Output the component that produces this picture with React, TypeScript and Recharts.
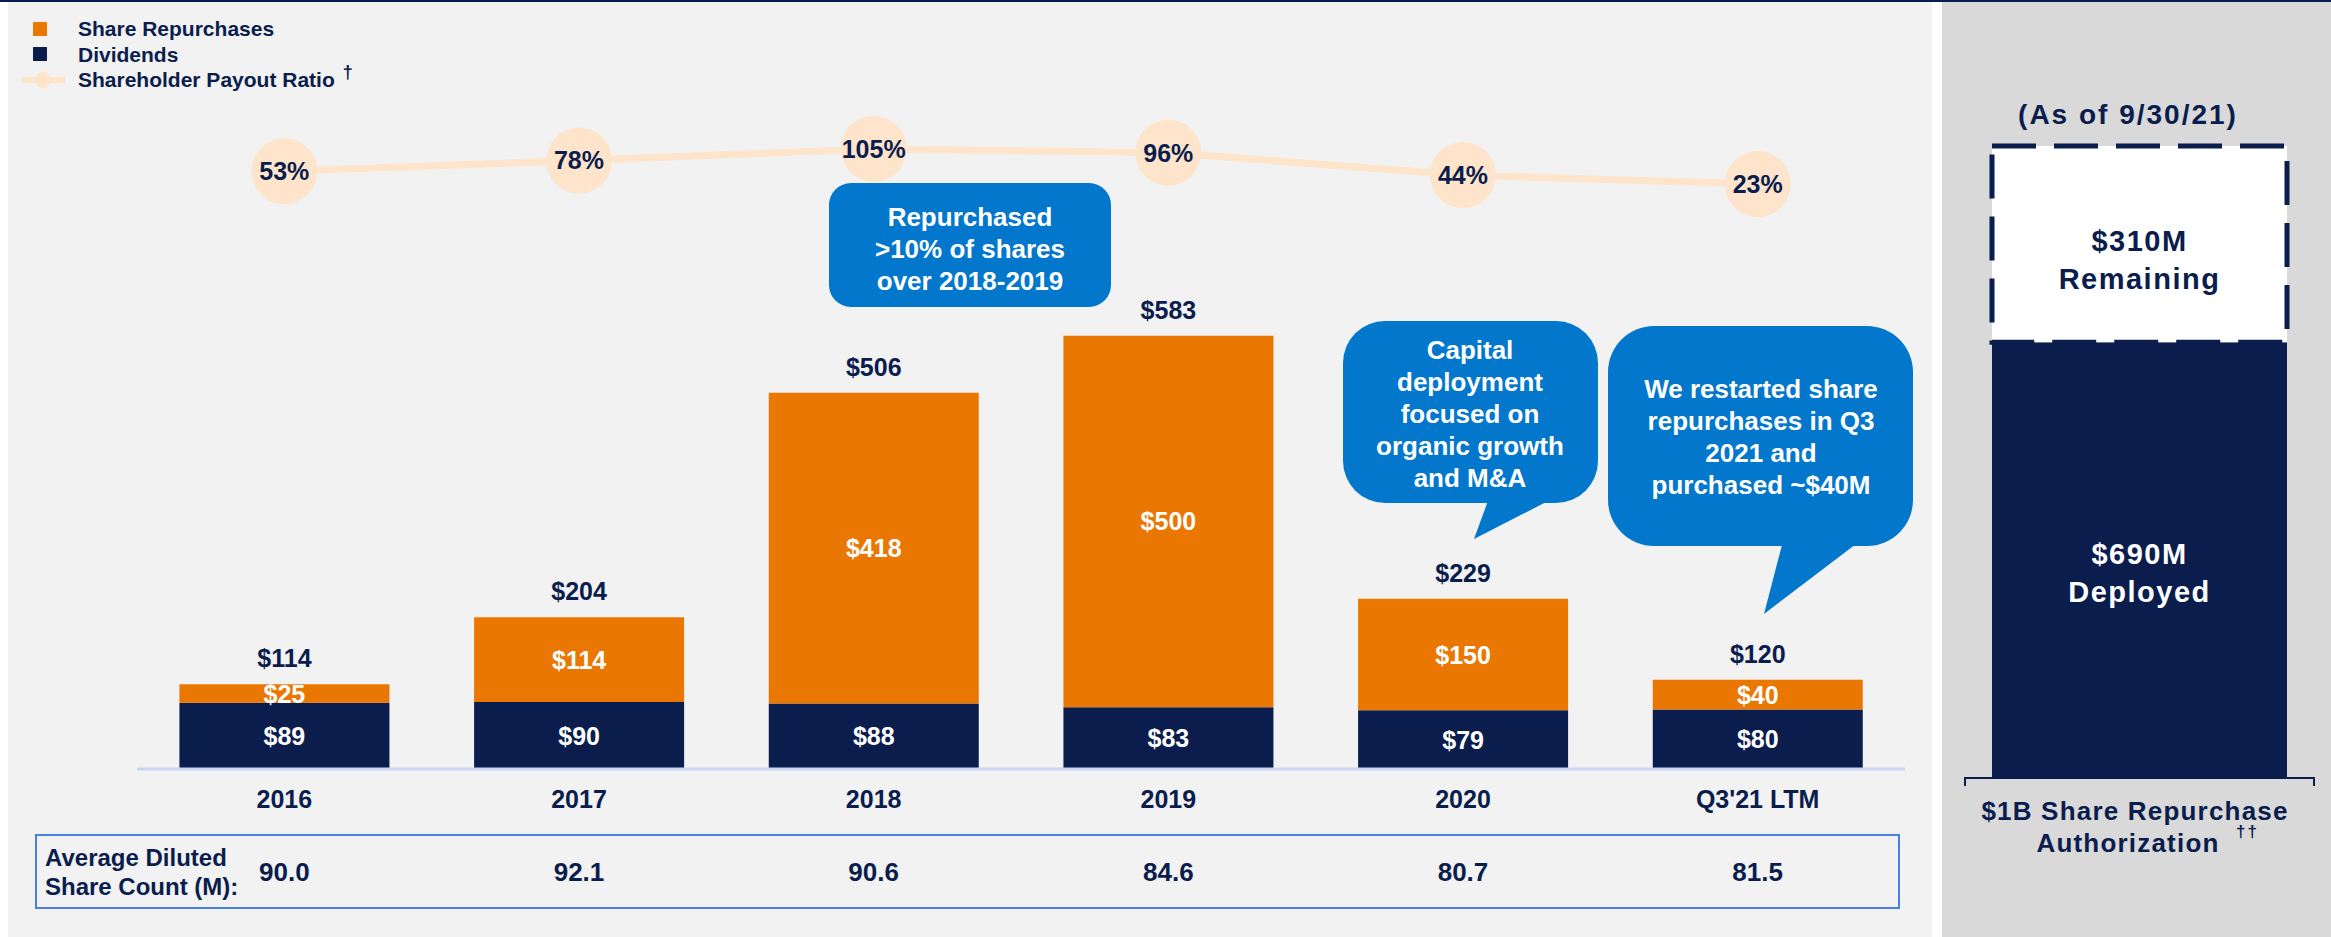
import React from "react";
import { ComposedChart, BarChart, Bar, Line, XAxis, YAxis, LabelList } from "recharts";

const years = ["2016", "2017", "2018", "2019", "2020", "Q3'21 LTM"];
const dividends = [89, 90, 88, 83, 79, 80];
const repurchases = [25, 114, 418, 500, 150, 40];
const totals = [114, 204, 506, 583, 229, 120];
const payoutRatio = [53, 78, 105, 96, 44, 23];
const shareCount = [90.0, 92.1, 90.6, 84.6, 80.7, 81.5];

const authDeployed = 690;
const authRemaining = 310;

const NAVY = "#0a1d4d";
const ORANGE = "#eb7703";
const PEACH = "#fde4ca";
const CALLOUT = "#0277cc";
const FONT = "'Liberation Sans', Arial, Helvetica, sans-serif";

const data = years.map((year, i) => ({
  year,
  dividends: dividends[i],
  repurchases: repurchases[i],
  total: totals[i],
  ratio: payoutRatio[i],
}));

const authData = [{ name: "auth", deployed: authDeployed, remaining: authRemaining }];

const box = (p: any) => p.viewBox ?? p;

const innerLabel = (p: any) => {
  const { x, y, width, height } = box(p);
  return (
    <text x={x + width / 2} y={y + height / 2} textAnchor="middle" dominantBaseline="central"
      fill="#fff" fontSize={25} fontWeight="bold" fontFamily={FONT}>
      ${p.value}
    </text>
  );
};

const totalLabel = (p: any) => {
  const { x, y, width } = box(p);
  return (
    <text x={x + width / 2} y={y - 26} textAnchor="middle" dominantBaseline="central"
      fill={NAVY} fontSize={25} fontWeight="bold" fontFamily={FONT}>
      ${p.value}
    </text>
  );
};

const ratioLabel = (p: any) => {
  const { x, y } = box(p);
  return (
    <text x={x} y={y} textAnchor="middle" dominantBaseline="central"
      fill={NAVY} fontSize={25} fontWeight="bold" fontFamily={FONT}>
      {p.value}%
    </text>
  );
};

// two-line label inside the authorization bar segments
const authLabel = (word: string, color: string, shift: number) => (p: any) => {
  const { x, y, width, height } = box(p);
  const cx = x + width / 2;
  const cy = y + height / 2 + shift;
  return (
    <text textAnchor="middle" fill={color} fontSize={29} fontWeight="bold" fontFamily={FONT} letterSpacing={1.5}>
      <tspan x={cx} y={cy - 19} dominantBaseline="central">${p.value}M</tspan>
      <tspan x={cx} y={cy + 19} dominantBaseline="central">{word}</tspan>
    </text>
  );
};

function YearTick({ x, y, payload }: any) {
  return (
    <g>
      <text x={x} y={y + 30} textAnchor="middle" dominantBaseline="central"
        fill={NAVY} fontSize={25} fontWeight="bold" fontFamily={FONT}>
        {payload.value}
      </text>
      <text x={x} y={y + 103} textAnchor="middle" dominantBaseline="central"
        fill={NAVY} fontSize={26} fontWeight="bold" fontFamily={FONT}>
        {shareCount[payload.index].toFixed(1)}
      </text>
    </g>
  );
}

function Callout({ lines, cx, y0 }: { lines: string[]; cx: number; y0: number }) {
  return (
    <text textAnchor="middle" fill="#fff" fontSize={26} fontWeight="bold" fontFamily={FONT}>
      {lines.map((l, i) => (
        <tspan key={i} x={cx} y={y0 + i * 32} dominantBaseline="central">{l}</tspan>
      ))}
    </text>
  );
}

export default function App() {
  return (
    <div style={{ position: "absolute", left: 0, top: 0, width: 2331, height: 937, background: "#fff", overflow: "hidden", fontFamily: FONT }}>
      {/* backgrounds */}
      <div style={{ position: "absolute", left: 8, top: 2, width: 1924, height: 935, background: "#f2f2f2" }} />
      <div style={{ position: "absolute", left: 1942, top: 2, width: 389, height: 935, background: "#d9d9d9" }} />
      <div style={{ position: "absolute", left: 0, top: 0, width: 2331, height: 2, background: NAVY }} />

      {/* legend */}
      <div style={{ position: "absolute", left: 0, top: 0, color: NAVY, fontWeight: "bold", fontSize: 21 }}>
        <div style={{ position: "absolute", left: 33, top: 22, width: 14, height: 14, background: ORANGE }} />
        <div style={{ position: "absolute", left: 78, top: 17, whiteSpace: "nowrap" }}>Share Repurchases</div>
        <div style={{ position: "absolute", left: 33, top: 47, width: 14, height: 14, background: NAVY }} />
        <div style={{ position: "absolute", left: 78, top: 43, whiteSpace: "nowrap" }}>Dividends</div>
        <div style={{ position: "absolute", left: 22, top: 77, width: 43, height: 6, background: PEACH }} />
        <div style={{ position: "absolute", left: 35, top: 72, width: 16, height: 16, borderRadius: 8, background: PEACH }} />
        <div style={{ position: "absolute", left: 78, top: 68, whiteSpace: "nowrap" }}>
          Shareholder Payout Ratio
          <span style={{ fontSize: 18, marginLeft: 8, position: "relative", top: -9 }}>†</span>
        </div>
      </div>

      {/* share count table frame */}
      <div style={{ position: "absolute", left: 35, top: 834, width: 1861, height: 71, border: "2px solid #4a7fe8" }} />
      <div style={{ position: "absolute", left: 45, top: 843, color: NAVY, fontWeight: "bold", fontSize: 24, lineHeight: "29px" }}>
        Average Diluted<br />Share Count (M):
      </div>

      {/* main bars */}
      <div style={{ position: "absolute", left: 0, top: 0 }}>
        <ComposedChart width={1935} height={937} data={data}
          margin={{ top: 323, right: 30, bottom: 128, left: 137 }} barCategoryGap="14.4%">
          <XAxis dataKey="year" height={40} interval={0} axisLine={{ stroke: "#c9d5f3", strokeWidth: 3 }}
            tickLine={false} tickSize={0} tickMargin={0} tick={<YearTick />} />
          <YAxis hide domain={[0, 600]} />
          <Bar dataKey="dividends" stackId="a" fill={NAVY} isAnimationActive={false}>
            <LabelList dataKey="dividends" content={innerLabel} />
          </Bar>
          <Bar dataKey="repurchases" stackId="a" fill={ORANGE} isAnimationActive={false}>
            <LabelList dataKey="repurchases" content={innerLabel} />
            <LabelList dataKey="total" content={totalLabel} />
          </Bar>
        </ComposedChart>
      </div>

      {/* payout ratio line */}
      <div style={{ position: "absolute", left: 0, top: 0 }}>
        <ComposedChart width={1935} height={230} data={data}
          margin={{ top: 142, right: 30, bottom: 36, left: 137 }}>
          <XAxis dataKey="year" hide scale="band" />
          <YAxis hide domain={[0, 121]} />
          <Line dataKey="ratio" stroke={PEACH} strokeWidth={7} isAnimationActive={false}
            dot={{ r: 33, fill: PEACH, stroke: "none" }} activeDot={false}>
            <LabelList dataKey="ratio" content={ratioLabel} />
          </Line>
        </ComposedChart>
      </div>

      {/* authorization panel */}
      <div style={{ position: "absolute", left: 1930, top: 0 }}>
        <BarChart width={401} height={937} data={authData}
          margin={{ top: 146, right: 44, bottom: 158, left: 62 }} barCategoryGap={0}>
          <XAxis dataKey="name" hide />
          <YAxis hide domain={[0, 1000]} />
          <Bar dataKey="deployed" stackId="s" fill={NAVY} isAnimationActive={false}>
            <LabelList dataKey="deployed" content={authLabel("Deployed", "#fff", 12)} />
          </Bar>
          <Bar dataKey="remaining" stackId="s" fill="#fff" stroke={NAVY} strokeWidth={5}
            strokeDasharray="44 18" isAnimationActive={false}>
            <LabelList dataKey="remaining" content={authLabel("Remaining", NAVY, 16)} />
          </Bar>
        </BarChart>
      </div>

      {/* annotations */}
      <svg width={2331} height={937} style={{ position: "absolute", left: 0, top: 0, pointerEvents: "none" }}>
        <rect x={829} y={183} width={282} height={124} rx={22} fill={CALLOUT} />
        <Callout cx={970} y0={217} lines={["Repurchased", ">10% of shares", "over 2018-2019"]} />

        <rect x={1343} y={321} width={255} height={182} rx={42} fill={CALLOUT} />
        <polygon points="1489,498 1554,498 1474,539" fill={CALLOUT} />
        <Callout cx={1470} y0={350} lines={["Capital", "deployment", "focused on", "organic growth", "and M&A"]} />

        <rect x={1608} y={326} width={305} height={220} rx={46} fill={CALLOUT} />
        <polygon points="1783,541 1860,541 1764,614" fill={CALLOUT} />
        <Callout cx={1761} y0={389} lines={["We restarted share", "repurchases in Q3", "2021 and", "purchased ~$40M"]} />

        <text x={2128} y={114} textAnchor="middle" dominantBaseline="central" fill={NAVY}
          fontSize={28} fontWeight="bold" fontFamily={FONT} letterSpacing={2}>(As of 9/30/21)</text>

        <path d="M1965,786 L1965,778 L2314,778 L2314,786" fill="none" stroke={NAVY} strokeWidth={2} />
        <text x={2135} y={811} textAnchor="middle" dominantBaseline="central" fill={NAVY}
          fontSize={26} fontWeight="bold" fontFamily={FONT} letterSpacing={1.2}>$1B Share Repurchase</text>
        <text x={2128} y={843} textAnchor="middle" dominantBaseline="central" fill={NAVY}
          fontSize={26} fontWeight="bold" fontFamily={FONT} letterSpacing={1.2}>Authorization</text>
        <text x={2236} y={831} textAnchor="start" dominantBaseline="central" fill={NAVY}
          fontSize={17} fontWeight="bold" fontFamily={FONT} letterSpacing={2}>††</text>
      </svg>
    </div>
  );
}
